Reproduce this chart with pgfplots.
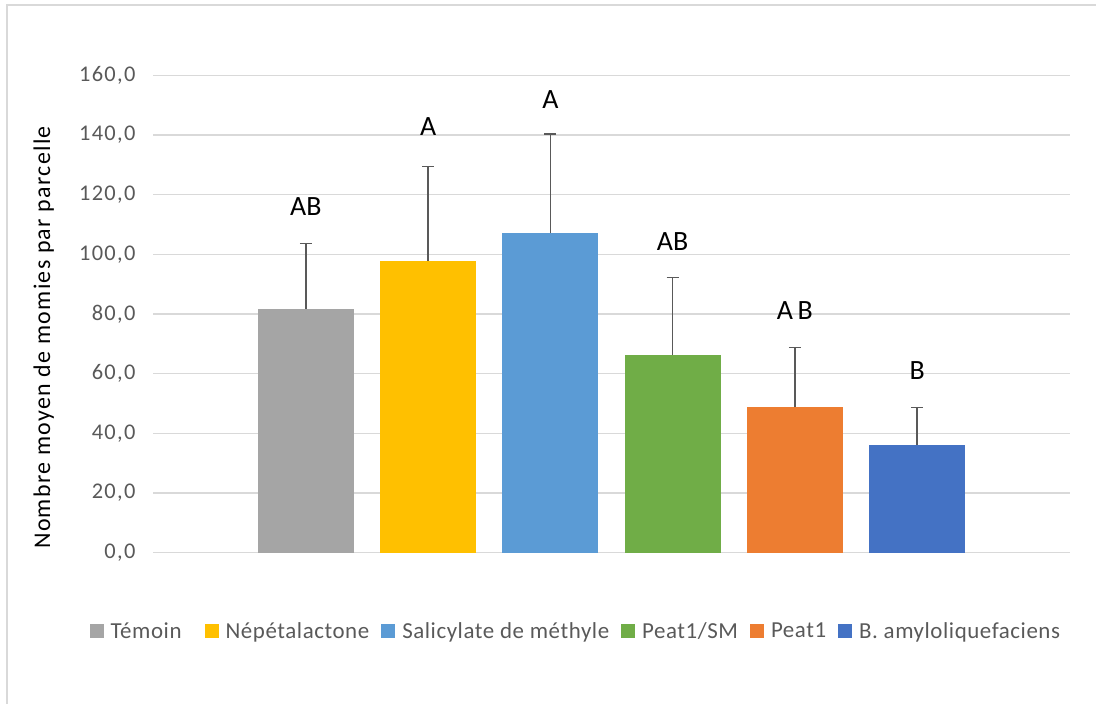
\documentclass[border=0pt]{standalone}
\usepackage{fontspec}
\setmainfont{Carlito}
\usepackage{pgfplots}
\pgfplotsset{compat=1.18}

\definecolor{cTemoin}{HTML}{A5A5A5}
\definecolor{cNepeta}{HTML}{FFC000}
\definecolor{cSalic}{HTML}{5B9BD5}
\definecolor{cPeatSM}{HTML}{70AD47}
\definecolor{cPeat}{HTML}{ED7D31}
\definecolor{cBamylo}{HTML}{4472C4}
\definecolor{gridgray}{HTML}{D9D9D9}
\definecolor{textgray}{HTML}{595959}
\definecolor{errgray}{HTML}{595959}

\pgfplotsset{
  errbar/.style={
    error bars/.cd,
      y dir=plus, y explicit,
      error bar style={color=errgray, line width=1.5bp},
      error mark options={rotate=90, mark size=6bp, line width=1.5bp, color=errgray},
  },
}

\begin{document}
\begin{tikzpicture}
\useasboundingbox (0,0) rectangle (1096bp,-704bp);
% chart border
\draw[gridgray, line width=1.5bp] (7bp,-710bp) -- (7bp,-5bp) -- (1100bp,-5bp);
\begin{axis}[
  at={(153bp,-552.7bp)}, anchor=south west,
  scale only axis,
  width=917bp, height=477.4bp,
  xmin=-1.25, xmax=6.25,
  ymin=0, ymax=160,
  ytick={0,20,...,160},
  xtick=\empty,
  axis line style={draw=none},
  major tick length=0pt,
  ymajorgrids,
  grid style={gridgray, line width=1.5bp},
  yticklabel={\pgfmathprintnumber[fixed,fixed zerofill,precision=1,use comma,assume math mode=true]{\tick}},
  yticklabel style={font=\fontsize{22.5}{26}\selectfont\addfontfeatures{LetterSpace=6}, text=textgray, xshift=-14bp},
  ylabel={Nombre moyen de momies par parcelle},
  ylabel style={font=\fontsize{24}{28}\selectfont\addfontfeatures{LetterSpace=5.5}, text=black,
    at={(axis description cs:-0.119,0.451)}, anchor=center},
  bar width=0.786,
  legend columns=6,
  legend style={draw=none, fill=none,
    at={(0.460,-0.164)}, anchor=center,
    font=\fontsize{23}{26}\selectfont\addfontfeatures{LetterSpace=2.5}, text=textgray,
    nodes={inner xsep=0pt},
    /tikz/every odd column/.append style={column sep=7bp},
    /tikz/every even column/.append style={column sep=12bp},
  },
  legend cell align=left,
  legend image code/.code={\fill[#1] (0bp,-7bp) rectangle (14bp,7bp);},
  clip=false,
]
\addplot[ybar, bar shift=0pt, fill=cTemoin, draw=none, errbar]
  coordinates {(0,81.7) +- (0,21.9)};
\addplot[ybar, bar shift=0pt, fill=cNepeta, draw=none, errbar]
  coordinates {(1,97.7) +- (0,31.8)};
\addplot[ybar, bar shift=0pt, fill=cSalic, draw=none, errbar]
  coordinates {(2,107.1) +- (0,33.2)};
\addplot[ybar, bar shift=0pt, fill=cPeatSM, draw=none, errbar]
  coordinates {(3,66.3) +- (0,26.0)};
\addplot[ybar, bar shift=0pt, fill=cPeat, draw=none, errbar]
  coordinates {(4,48.8) +- (0,20.0)};
\addplot[ybar, bar shift=0pt, fill=cBamylo, draw=none, errbar]
  coordinates {(5,36.1) +- (0,12.6)};
\legend{Témoin\hspace{11bp}\mbox{}, Népétalactone, Salicylate de méthyle, Peat1/SM, Peat1, B. amyloliquefaciens}

% significance letters
\begin{scope}[every node/.style={font=\fontsize{28}{30}\selectfont, text=black}]
\node at (axis cs:0,116.0) {AB};
\node at (axis cs:1,142.8) {A};
\node at (axis cs:2,152.0) {A};
\node at (axis cs:3,104.2) {AB};
\node at (axis cs:4,81.3) {A\,B};
\node at (axis cs:5,61.2) {B};
\end{scope}
\end{axis}
\end{tikzpicture}
\end{document}
